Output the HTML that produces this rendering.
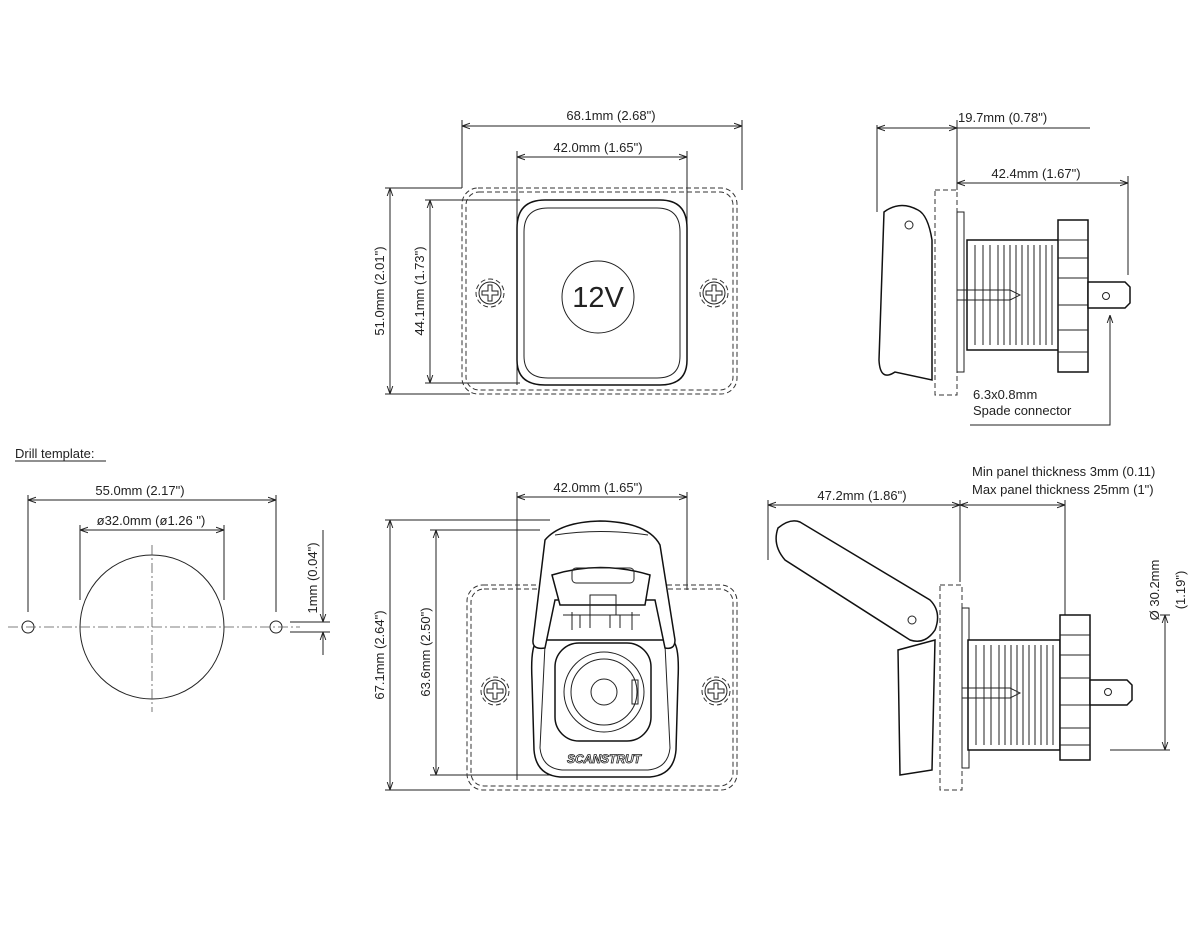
<!DOCTYPE html>
<html><head><meta charset="utf-8"><style>
html,body{margin:0;padding:0;background:#fff}
svg{display:block}
text{font-family:"Liberation Sans",sans-serif;font-size:13px;fill:#222}
.l{stroke:#222;stroke-width:1;fill:none}
.b{stroke:#111;stroke-width:1.5;fill:#fff}
.d{stroke:#333;stroke-width:1;fill:none;stroke-dasharray:5,3}
.c{stroke:#555;stroke-width:.8;fill:none;stroke-dasharray:10,3,2,3}
</style></head><body>
<svg width="1200" height="950" viewBox="0 0 1200 950">
<defs>
<marker id="a" viewBox="0 0 10 10" refX="10" refY="5" markerWidth="8" markerHeight="8" orient="auto-start-reverse"><path d="M0,1.5 L10,5 L0,8.5" fill="none" stroke="#222" stroke-width="1.2"/></marker>
<g id="scr"><circle r="14" class="d"/><circle r="11" class="l"/><path d="M-2,-8 L2,-8 L2,-2 L8,-2 L8,2 L2,2 L2,8 L-2,8 L-2,2 L-8,2 L-8,-2 L-2,-2Z" class="l"/></g>
</defs>

<!-- TOP FRONT VIEW -->
<path class="l" d="M462,120 V188 M742,120 V190 M517,151 V385 M687,151 V230 M385,188 H462 M385,394 H470 M425,200 H520 M425,383 H520"/>
<line class="l" x1="462" y1="126" x2="742" y2="126" marker-start="url(#a)" marker-end="url(#a)"/>
<text x="611" y="120" text-anchor="middle">68.1mm  (2.68")</text>
<line class="l" x1="517" y1="157" x2="687" y2="157" marker-start="url(#a)" marker-end="url(#a)"/>
<text x="598" y="152" text-anchor="middle">42.0mm  (1.65")</text>
<line class="l" x1="390" y1="188" x2="390" y2="394" marker-start="url(#a)" marker-end="url(#a)"/>
<text transform="translate(384,291) rotate(-90)" text-anchor="middle">51.0mm  (2.01")</text>
<line class="l" x1="430" y1="200" x2="430" y2="383" marker-start="url(#a)" marker-end="url(#a)"/>
<text transform="translate(424,291) rotate(-90)" text-anchor="middle">44.1mm  (1.73")</text>
<rect x="462" y="188" width="275" height="206" rx="16" class="d"/>
<rect x="466" y="192" width="267" height="198" rx="13" class="d"/>
<path class="b" d="M545,200 H660 Q687,200 687,228 V360 Q687,385 660,385 H545 Q517,385 517,360 V228 Q517,200 545,200Z"/>
<path class="l" d="M548,208 H657 Q680,208 680,232 V356 Q680,378 657,378 H548 Q524,378 524,356 V232 Q524,208 548,208Z"/>
<circle cx="598" cy="297" r="36" class="l" stroke-width="1.5"/>
<text x="598" y="307" text-anchor="middle" style="font-size:29px">12V</text>
<use href="#scr" x="490" y="293"/><use href="#scr" x="714" y="293"/>

<!-- TOP SIDE VIEW -->
<path class="l" d="M877,125 V212 M957,120 V190 M1128,176 V275"/>
<line class="l" x1="877" y1="128" x2="957" y2="128" marker-start="url(#a)" marker-end="url(#a)"/>
<line class="l" x1="957" y1="128" x2="1090" y2="128"/>
<text x="958" y="122">19.7mm (0.78")</text>
<line class="l" x1="957" y1="183" x2="1128" y2="183" marker-start="url(#a)" marker-end="url(#a)"/>
<text x="1036" y="178" text-anchor="middle">42.4mm  (1.67")</text>
<path class="b" d="M884,212 Q900,200 918,210 Q928,215 932,240 V380 L895,372 Q880,382 879,360 Z"/>
<circle cx="909" cy="225" r="4" class="l"/>
<rect x="935" y="190" width="22" height="205" class="d"/>
<rect x="957" y="212" width="7" height="160" class="l"/>
<rect x="967" y="240" width="93" height="110" class="b"/>
<path class="l" d="M975,245 V345 M983,245 V345 M990,245 V345 M998,245 V345 M1004,245 V345 M1010,245 V345 M1016,245 V345 M1022,245 V345 M1028,245 V345 M1034,245 V345 M1040,245 V345 M1046,245 V345 M1052,245 V345"/>
<path class="l" d="M957,290 H1010 L1020,295 L1010,300 H957" />
<rect x="1058" y="220" width="30" height="152" class="b"/>
<path class="l" d="M1058,240 H1088 M1058,258 H1088 M1058,278 H1088 M1058,305 H1088 M1058,330 H1088 M1058,352 H1088"/>
<path class="b" d="M1088,282 H1125 L1130,287 V303 L1125,308 H1088Z"/>
<circle cx="1106" cy="296" r="3.5" class="l"/>
<text x="973" y="399">6.3x0.8mm</text>
<text x="973" y="415">Spade connector</text>
<path class="l" d="M970,425 H1110 V315" marker-end="url(#a)"/>

<!-- DRILL TEMPLATE -->
<text x="15" y="458">Drill template:</text>
<line class="l" x1="15" y1="461" x2="106" y2="461"/>
<path class="l" d="M28,495 V612 M276,495 V612 M80,525 V600 M224,525 V600 M290,622 H330 M290,632 H330"/>
<line class="l" x1="28" y1="500" x2="276" y2="500" marker-start="url(#a)" marker-end="url(#a)"/>
<text x="140" y="495" text-anchor="middle">55.0mm    (2.17")</text>
<line class="l" x1="80" y1="530" x2="224" y2="530" marker-start="url(#a)" marker-end="url(#a)"/>
<text x="151" y="525" text-anchor="middle">ø32.0mm    (ø1.26 ")</text>
<circle cx="152" cy="627" r="72" class="l" stroke-width="1.2"/>
<circle cx="28" cy="627" r="6" class="l"/><circle cx="276" cy="627" r="6" class="l"/>
<path class="c" d="M8,627 H300 M152,545 V712"/>
<line class="l" x1="323" y1="600" x2="323" y2="622" marker-end="url(#a)"/>
<line class="l" x1="323" y1="655" x2="323" y2="632" marker-end="url(#a)"/>
<line class="l" x1="323" y1="530" x2="323" y2="600"/>
<text transform="translate(317,578) rotate(-90)" text-anchor="middle">1mm  (0.04")</text>

<!-- BOTTOM FRONT VIEW -->
<path class="l" d="M517,492 V780 M687,492 V590 M385,520 H550 M385,790 H470 M430,530 H540 M430,775 H600"/>
<line class="l" x1="517" y1="497" x2="687" y2="497" marker-start="url(#a)" marker-end="url(#a)"/>
<text x="598" y="492" text-anchor="middle">42.0mm  (1.65")</text>
<line class="l" x1="390" y1="520" x2="390" y2="790" marker-start="url(#a)" marker-end="url(#a)"/>
<text transform="translate(384,655) rotate(-90)" text-anchor="middle">67.1mm  (2.64")</text>
<line class="l" x1="436" y1="530" x2="436" y2="775" marker-start="url(#a)" marker-end="url(#a)"/>
<text transform="translate(430,652) rotate(-90)" text-anchor="middle">63.6mm  (2.50")</text>
<rect x="467" y="585" width="270" height="205" rx="16" class="d"/>
<rect x="471" y="589" width="262" height="197" rx="13" class="d"/>
<path class="b" d="M540,640 Q530,640 532,680 L534,750 Q536,775 560,777 H650 Q674,775 676,750 L678,680 Q680,640 670,640 Z"/>
<path class="l" d="M545,645 L540,748 Q542,768 562,770 H648 Q668,768 670,748 L665,645"/>
<path class="b" d="M545,540 Q560,522 600,521 Q648,522 660,545 L675,640 Q675,650 665,648 L655,600 L555,600 L545,648 Q532,650 533,640 Z"/>
<path class="l" d="M555,535 Q600,528 648,535"/>
<path class="b" d="M552,575 Q600,560 650,575 L645,605 H560Z"/>
<rect x="572" y="568" width="62" height="15" rx="4" class="l"/>
<rect x="590" y="595" width="26" height="20" class="l"/>
<path class="l" d="M563,615 H640 M572,612 V630 M632,612 V630 M580,615 V628 M590,615 V628 M610,615 V628 M620,615 V628"/>
<rect x="555" y="643" width="96" height="98" rx="24" class="b"/>
<circle cx="604" cy="692" r="40" class="l" stroke-width="1.5"/>
<circle cx="604" cy="692" r="33" class="l"/>
<circle cx="604" cy="692" r="13" class="l"/>
<rect x="632" y="680" width="6" height="24" class="l"/>
<text x="604" y="763" text-anchor="middle" style="font-size:12px;font-weight:bold;font-style:italic;fill:#fff;stroke:#222;stroke-width:.8">SCANSTRUT</text>
<use href="#scr" x="495" y="691"/><use href="#scr" x="716" y="691"/>

<!-- BOTTOM SIDE VIEW -->
<path class="l" d="M768,500 V560 M960,500 V582 M1065,500 V615 M1160,615 H1170 M1110,750 H1170"/>
<line class="l" x1="768" y1="505" x2="960" y2="505" marker-start="url(#a)" marker-end="url(#a)"/>
<text x="862" y="500" text-anchor="middle">47.2mm  (1.86")</text>
<line class="l" x1="960" y1="505" x2="1065" y2="505" marker-start="url(#a)" marker-end="url(#a)"/>
<text x="972" y="476">Min panel thickness 3mm (0.11)</text>
<text x="972" y="494">Max panel thickness 25mm (1")</text>
<line class="l" x1="1165" y1="615" x2="1165" y2="750" marker-start="url(#a)" marker-end="url(#a)"/>
<text transform="translate(1159,590) rotate(-90)" text-anchor="middle">Ø 30.2mm</text>
<text transform="translate(1185,590) rotate(-90)" text-anchor="middle">(1.19")</text>
<rect x="940" y="585" width="22" height="205" class="d"/>
<path class="b" d="M935,640 L932,770 L900,775 L898,650 Z"/>
<path class="b" d="M778,528 Q790,518 800,522 L930,600 Q942,612 935,630 Q925,645 910,640 L785,560 Q772,545 778,528Z"/>
<circle cx="912" cy="620" r="4" class="l"/>
<rect x="962" y="608" width="7" height="160" class="l"/>
<rect x="968" y="640" width="92" height="110" class="b"/>
<path class="l" d="M976,645 V745 M984,645 V745 M991,645 V745 M999,645 V745 M1005,645 V745 M1011,645 V745 M1017,645 V745 M1023,645 V745 M1029,645 V745 M1035,645 V745 M1041,645 V745 M1047,645 V745 M1053,645 V745"/>
<path class="l" d="M962,688 H1010 L1020,693 L1010,698 H962"/>
<rect x="1060" y="615" width="30" height="145" class="b"/>
<path class="l" d="M1060,635 H1090 M1060,655 H1090 M1060,678 H1090 M1060,705 H1090 M1060,728 H1090 M1060,745 H1090"/>
<path class="b" d="M1090,680 H1127 L1132,685 V700 L1127,705 H1090Z"/>
<circle cx="1108" cy="692" r="3.5" class="l"/>
</svg>
</body></html>
